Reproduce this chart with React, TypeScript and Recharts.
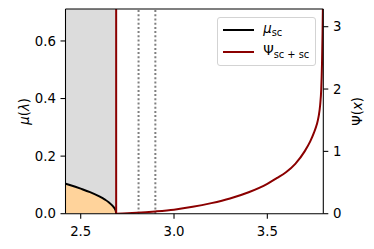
import React from 'react';
import { ComposedChart, Line, Area, XAxis, YAxis, ReferenceArea, ReferenceLine, Legend } from 'recharts';

const X_DOMAIN: [number, number] = [2.4185, 3.8];
const MU_DOMAIN: [number, number] = [0, 0.711];
const PSI_DOMAIN: [number, number] = [0, 3.284];
const X_TICKS = [2.5, 3.0, 3.5];
const MU_TICKS = [0, 0.2, 0.4, 0.6];
const PSI_TICKS = [0, 1, 2, 3];
const EDGE = 2.69;
const GAP_MARKERS = [2.81, 2.9];

const muX = [2.4185, 2.45, 2.5, 2.55, 2.6, 2.63, 2.65, 2.67, 2.68, 2.685, 2.688, 2.69];
const muY = [0.104, 0.098, 0.087, 0.075, 0.06, 0.049, 0.04, 0.028, 0.02, 0.014, 0.009, 0];

const psiX = [2.69, 2.75, 2.8, 2.9, 3.0, 3.1, 3.2, 3.3, 3.4, 3.5, 3.55, 3.6, 3.65, 3.7, 3.73, 3.75, 3.765, 3.775, 3.783, 3.789, 3.793, 3.796, 3.8];
const psiY = [0, 0.006, 0.014, 0.036, 0.065, 0.11, 0.17, 0.245, 0.345, 0.48, 0.57, 0.665, 0.8, 1.0, 1.16, 1.3, 1.43, 1.56, 1.74, 2.0, 2.4, 2.9, 3.8];

const muData = muX.map((x, i) => ({ x, mu: muY[i] }));
const psiData = psiX.map((x, i) => ({ x, psi: psiY[i] }));

const FONT = 'DejaVu Sans, sans-serif';
const FS = 13.3;
const DARKRED = '#8b0000';
const tickStyle = { fontFamily: FONT, fontSize: FS, fill: '#000' };

const LeftLabel = (props: any) => {
  const vb = props.viewBox || { x: 0, y: 9, width: 65.5, height: 204.7 };
  const cx = 24;
  const cy = vb.y + vb.height / 2;
  return (
    <text x={cx} y={cy} transform={`rotate(-90, ${cx}, ${cy})`} textAnchor="middle" dominantBaseline="central" fontFamily={FONT} fontSize={FS} fill="#000">
      <tspan fontStyle="italic">μ</tspan>
      <tspan>(</tspan>
      <tspan fontStyle="italic">λ</tspan>
      <tspan>)</tspan>
    </text>
  );
};

const RightLabel = (props: any) => {
  const vb = props.viewBox || { x: 323.3, y: 9, width: 50.7, height: 204.7 };
  const cx = 357.5;
  const cy = vb.y + vb.height / 2;
  return (
    <text x={cx} y={cy} transform={`rotate(-90, ${cx}, ${cy})`} textAnchor="middle" dominantBaseline="central" fontFamily={FONT} fontSize={FS} fill="#000">
      <tspan>Ψ(</tspan>
      <tspan fontStyle="italic">x</tspan>
      <tspan>)</tspan>
    </text>
  );
};

const LegendBox = () => (
  <div
    style={{
      width: 99,
      height: 49,
      boxSizing: 'border-box',
      border: '1px solid #d3d3d3',
      borderRadius: 3,
      background: 'rgba(255,255,255,0.8)',
      fontFamily: FONT,
      fontSize: FS,
      position: 'relative',
      color: '#000',
    }}
  >
    <div style={{ position: 'absolute', left: 5, top: 11, width: 31, height: 2, background: '#000' }} />
    <div style={{ position: 'absolute', left: 45.5, top: 3, lineHeight: '16px', whiteSpace: 'nowrap' }}>
      <span style={{ fontStyle: 'italic' }}>μ</span>
      <span style={{ fontSize: '0.74em', position: 'relative', top: '0.3em' }}>sc</span>
    </div>
    <div style={{ position: 'absolute', left: 5, top: 33.5, width: 31, height: 2, background: DARKRED }} />
    <div style={{ position: 'absolute', left: 45.5, top: 25, lineHeight: '16px', whiteSpace: 'nowrap' }}>
      <span>Ψ</span>
      <span style={{ fontSize: '0.74em', position: 'relative', top: '0.3em' }}>sc + sc</span>
    </div>
  </div>
);

export default function App() {
  return (
    <div style={{ position: 'absolute', left: 0, top: 0, width: 374, height: 249, background: '#fff' }}>
      <ComposedChart width={374} height={249} margin={{ top: 9, right: 0, bottom: 0, left: 0 }}>
        <XAxis
          dataKey="x"
          type="number"
          domain={X_DOMAIN}
          ticks={X_TICKS}
          allowDataOverflow
          tickFormatter={(v: number) => v.toFixed(1)}
          height={35.3}
          tickSize={5}
          tickMargin={7.5}
          tick={tickStyle}
          axisLine={{ stroke: '#000', strokeWidth: 1.07 }}
          tickLine={{ stroke: '#000', strokeWidth: 1.07 }}
        />
        <YAxis
          yAxisId="left"
          type="number"
          domain={MU_DOMAIN}
          ticks={MU_TICKS}
          allowDataOverflow
          tickFormatter={(v: number) => v.toFixed(1)}
          width={65.5}
          tickSize={5}
          tickMargin={4.5}
          tick={tickStyle}
          axisLine={{ stroke: '#000', strokeWidth: 1.07 }}
          tickLine={{ stroke: '#000', strokeWidth: 1.07 }}
          label={{ content: <LeftLabel /> } as any}
        />
        <YAxis
          yAxisId="right"
          orientation="right"
          type="number"
          domain={PSI_DOMAIN}
          ticks={PSI_TICKS}
          allowDataOverflow
          tickFormatter={(v: number) => String(v)}
          width={50.7}
          tickSize={5}
          tickMargin={4.7}
          tick={tickStyle}
          axisLine={{ stroke: '#000', strokeWidth: 1.07 }}
          tickLine={{ stroke: '#000', strokeWidth: 1.07 }}
          label={{ content: <RightLabel /> } as any}
        />
        <ReferenceArea yAxisId="left" x1={X_DOMAIN[0]} x2={EDGE} y1={MU_DOMAIN[0]} y2={MU_DOMAIN[1]} fill="#dcdcdc" fillOpacity={1} stroke="none" ifOverflow="visible" />
        <Area
          yAxisId="left"
          data={muData}
          dataKey="mu"
          type="monotone"
          fill="#ffd39b"
          fillOpacity={1}
          stroke="none"
          isAnimationActive={false}
          dot={false}
          activeDot={false}
        />
        <Line
          yAxisId="left"
          data={muData}
          dataKey="mu"
          type="monotone"
          stroke="#000"
          strokeWidth={2}
          dot={false}
          activeDot={false}
          isAnimationActive={false}
        />
        {GAP_MARKERS.map((g) => (
          <ReferenceLine key={g} yAxisId="left" x={g} stroke="#808080" strokeWidth={2} strokeDasharray="2 2.2" />
        ))}
        <ReferenceLine yAxisId="left" x={EDGE} stroke={DARKRED} strokeWidth={2} />
        <Line
          yAxisId="right"
          data={psiData}
          dataKey="psi"
          type="monotone"
          stroke={DARKRED}
          strokeWidth={2}
          dot={false}
          activeDot={false}
          isAnimationActive={false}
        />
        <ReferenceLine yAxisId="left" y={MU_DOMAIN[1]} stroke="#000" strokeWidth={1.07} />
        <Legend
          layout="vertical"
          align="center"
          verticalAlign="middle"
          content={<LegendBox />}
          wrapperStyle={{ position: 'absolute', left: 216.7, top: 16.7, width: 99, height: 49 }}
        />
      </ComposedChart>
    </div>
  );
}
